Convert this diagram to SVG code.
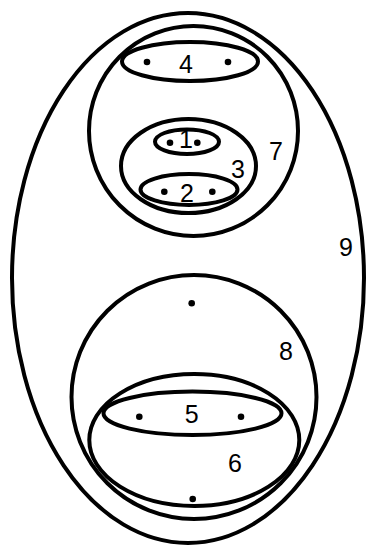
<svg xmlns="http://www.w3.org/2000/svg" width="366" height="546" viewBox="0 0 366 546">
<style>
.s{fill:none;stroke:#000;stroke-width:4}
.d{fill:#000}
.t{font-family:"Liberation Sans",Arial,sans-serif;font-size:25px;fill:#000;text-anchor:middle}
</style>
<rect width="366" height="546" fill="#fff"/>
<g id="n9"><ellipse class="s" cx="188" cy="278" rx="176" ry="265"/><text class="t" x="346" y="256">9</text></g>
<g id="n7"><ellipse class="s" cx="193.5" cy="131" rx="104.5" ry="105"/><text class="t" x="276" y="160">7</text></g>
<g id="n4"><ellipse class="s" cx="190" cy="61.5" rx="68" ry="19.5"/><circle class="d" cx="147" cy="62" r="3.3"/><circle class="d" cx="228" cy="62" r="3.3"/><text class="t" x="186" y="73">4</text></g>
<g id="n3"><ellipse class="s" cx="188.5" cy="166" rx="67.5" ry="47"/><text class="t" x="238" y="178">3</text></g>
<g id="n1"><ellipse class="s" cx="187" cy="141.7" rx="32" ry="12.3"/><circle class="d" cx="170" cy="142.7" r="3.3"/><circle class="d" cx="197.3" cy="142.7" r="3.3"/><text class="t" x="186" y="148">1</text></g>
<g id="n2"><ellipse class="s" cx="189" cy="189.5" rx="48.5" ry="15.5"/><circle class="d" cx="164.3" cy="191.7" r="3.3"/><circle class="d" cx="212.3" cy="191.7" r="3.3"/><text class="t" x="187" y="201.5">2</text></g>
<g id="n8"><ellipse class="s" cx="194" cy="397" rx="122.5" ry="122"/><circle class="d" cx="191.7" cy="303.3" r="3.3"/><text class="t" x="286" y="360">8</text></g>
<g id="n6"><ellipse class="s" cx="194.3" cy="440" rx="105" ry="66"/><circle class="d" cx="192.7" cy="499" r="3.3"/><text class="t" x="235" y="471.5">6</text></g>
<g id="n5"><ellipse class="s" cx="192.5" cy="413.3" rx="89" ry="21.7"/><circle class="d" cx="139.3" cy="416.7" r="3.3"/><circle class="d" cx="241" cy="416.7" r="3.3"/><text class="t" x="191.7" y="423.3">5</text></g>
<g id="connectors"></g>
</svg>
